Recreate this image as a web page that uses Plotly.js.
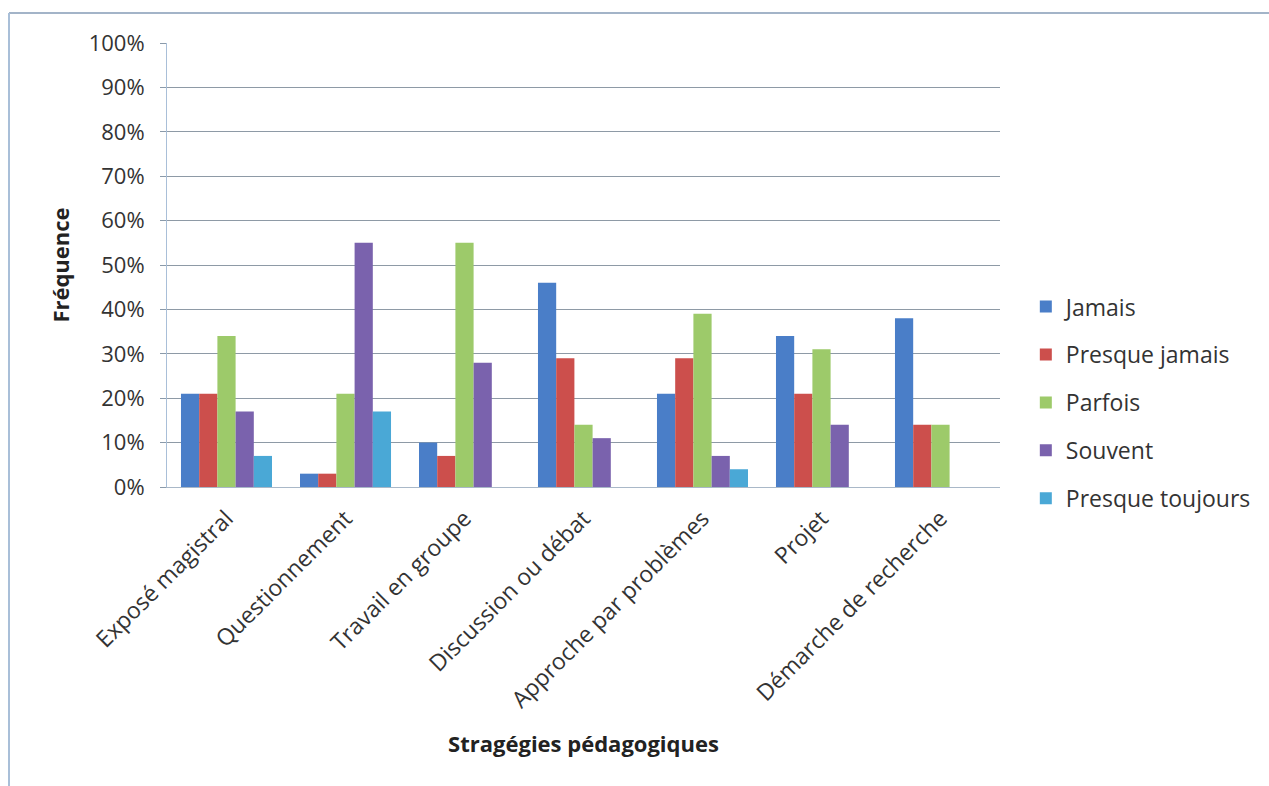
<!DOCTYPE html>
<html>
<head>
<meta charset="utf-8">
<script src="https://cdn.plot.ly/plotly-3.0.1.min.js"></script>
<style>html,body{margin:0;padding:0;background:#fff;}#chart{width:1269px;height:786px;}</style>
</head>
<body>
<div id="chart"></div>
<script>
const categories = ["Exposé magistral", "Questionnement", "Travail en groupe", "Discussion ou débat", "Approche par problèmes", "Projet", "Démarche de recherche"];
const seriesNames = ["Jamais", "Presque jamais", "Parfois", "Souvent", "Presque toujours"];
const jamais = [0.21, 0.03, 0.10, 0.46, 0.21, 0.34, 0.38];
const presqueJamais = [0.21, 0.03, 0.07, 0.29, 0.29, 0.21, 0.14];
const parfois = [0.34, 0.21, 0.55, 0.14, 0.39, 0.31, 0.14];
const souvent = [0.17, 0.55, 0.28, 0.11, 0.07, 0.14, 0];
const presqueToujours = [0.07, 0.17, 0, 0, 0.04, 0, 0];
const yTicks = [0, 0.1, 0.2, 0.3, 0.4, 0.5, 0.6, 0.7, 0.8, 0.9, 1.0];
const yTickLabels = ["0%", "10%", "20%", "30%", "40%", "50%", "60%", "70%", "80%", "90%", "100%"];

const colors = ["#4a7ec8", "#cc4f4c", "#9dca6a", "#7a62ad", "#4aa8d6"];
const values = [jamais, presqueJamais, parfois, souvent, presqueToujours];
const fontFam = "'Open Sans', sans-serif";

const traces = values.map((v, i) => ({
  type: 'bar', x: categories, y: v, name: seriesNames[i], legendgroup: 'g' + i,
  marker: {color: colors[i], line: {width: 0}}, hoverinfo: 'skip'
}));

const layout = {
  width: 1269, height: 786,
  margin: {l: 167, r: 269, t: 43, b: 299},
  paper_bgcolor: '#ffffff', plot_bgcolor: '#ffffff',
  barmode: 'group', bargap: 0.235, bargroupgap: 0,
  font: {family: fontFam, color: '#333333', size: 22},
  showlegend: true,
  legend: {x: 1.031, xanchor: 'left', y: 0.19, yanchor: 'middle', traceorder: 'grouped', tracegroupgap: 15,
           font: {family: fontFam, size: 23, color: '#333333'}, itemwidth: 30, bgcolor: 'rgba(0,0,0,0)'},
  xaxis: {
    type: 'category', tickangle: -45, automargin: false,
    tickfont: {family: fontFam, size: 23, color: '#333333'}, ticklabelstandoff: 8,
    showline: true, linecolor: '#a9b8c8', linewidth: 1, ticks: '', showgrid: false,
    title: {text: '<b>Stragégies pédagogiques</b>', font: {family: fontFam, size: 22, color: '#222222'}, standoff: 23}
  },
  yaxis: {
    range: [0, 1], tickvals: yTicks, ticktext: yTickLabels, automargin: false,
    tickfont: {family: fontFam, size: 22, color: '#333333'}, ticklabelstandoff: 11,
    showline: true, linecolor: '#a9bfd8', linewidth: 1, ticks: 'outside', ticklen: 6, tickcolor: '#8a9aaa',
    showgrid: true, gridcolor: '#8e9aa6', gridwidth: 1, zeroline: false,
    title: {text: '<b>Fréquence</b>', font: {family: fontFam, size: 22, color: '#222222'}, standoff: 12}
  },
  shapes: [
    {type: 'line', xref: 'paper', yref: 'paper', x0: -158/833, x1: 1 + 269/833, y0: 1 + 30/444, y1: 1 + 30/444, line: {color: '#a3b4c8', width: 2}},
    {type: 'line', xref: 'paper', yref: 'paper', x0: -158/833, x1: -158/833, y0: 1 + 30/444, y1: -299/444, line: {color: '#a9bfd8', width: 2}}
  ]
};

Plotly.newPlot('chart', traces, layout, {displayModeBar: false, staticPlot: true});
</script>
</body>
</html>
